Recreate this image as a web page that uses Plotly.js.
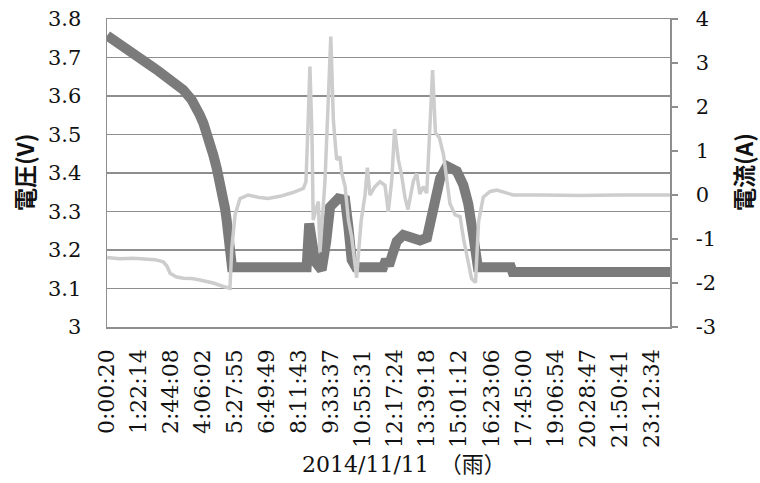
<!DOCTYPE html>
<html>
<head>
<meta charset="utf-8">
<script src="https://cdn.plot.ly/plotly-3.0.1.min.js"></script>
<style>
  html, body { margin: 0; padding: 0; background: #ffffff; }
  #chart { width: 760px; height: 483px; }
</style>
</head>
<body>
<div id="chart"></div>
<script>
// Battery log for 2014/11/11 (rainy day): time in hours since midnight.

// Battery voltage (V)
const voltTime = [0.0056, 0.41, 0.77, 1.12, 1.48, 1.83, 2.19, 2.55, 2.90, 3.25, 3.61, 3.82, 3.96, 4.11,
  4.25, 4.39, 4.53, 4.68, 4.82, 4.93, 5.03, 5.10, 5.17, 5.24, 5.29, 5.33,
  8.51, 8.62, 8.87, 9.15, 9.34, 9.51, 9.86, 10.15, 10.29, 10.43, 10.61,
  11.77, 11.89, 12.02, 12.14, 12.35, 12.63, 13.06, 13.34, 13.64, 13.91, 14.20, 14.49, 14.91,
  15.19, 15.40, 15.62, 15.76, 15.81, 17.22, 17.29, 24.0];
const voltage = [3.757, 3.741, 3.728, 3.715, 3.698, 3.68, 3.665, 3.65, 3.633, 3.616, 3.59, 3.572, 3.55, 3.529,
  3.507, 3.477, 3.447, 3.412, 3.377, 3.343, 3.308, 3.278, 3.248, 3.204, 3.178, 3.155,
  3.155, 3.269, 3.17, 3.148, 3.22, 3.312, 3.334, 3.33, 3.26, 3.174, 3.155,
  3.155, 3.175, 3.16, 3.183, 3.222, 3.239, 3.232, 3.225, 3.232, 3.308, 3.386, 3.418, 3.405,
  3.369, 3.32, 3.235, 3.165, 3.155, 3.155, 3.143, 3.143];

// Battery current (A)
const currTime = [0.0056, 0.55, 1.12, 1.62, 2.05, 2.40, 2.56, 2.69, 2.94, 3.25, 3.62, 3.96, 4.26, 4.53, 4.96, 5.24,
  5.32, 5.46, 5.67, 6.02, 6.44, 6.86, 7.37, 7.89, 8.37, 8.48, 8.57, 8.65, 8.74, 8.79, 8.94, 9.01, 9.08,
  9.29, 9.42, 9.54, 9.65, 9.79, 9.93, 10.01, 10.15, 10.29, 10.43, 10.64, 10.83, 11.00, 11.10, 11.21,
  11.42, 11.64, 11.85, 11.99, 12.14, 12.26, 12.42, 12.56, 12.70, 12.83, 13.06, 13.20, 13.34, 13.48,
  13.63, 13.77, 13.88, 14.00, 14.17, 14.35, 14.48, 14.62, 14.84, 15.05, 15.20, 15.35, 15.54, 15.71,
  15.84, 16.04, 16.33, 16.61, 16.97, 17.32, 18.46, 20.16, 21.87, 24.0];
const current = [-1.42, -1.45, -1.44, -1.46, -1.47, -1.52, -1.62, -1.78, -1.86, -1.89, -1.90, -1.93, -1.96, -2.0, -2.08, -2.12,
  -1.21, -0.45, -0.08, 0.0, -0.05, -0.08, -0.03, 0.05, 0.15, 0.3, 1.6, 2.92, 1.3, -0.57, -0.27, -0.15, -1.3,
  0.3, 2.0, 3.6, 1.70, 0.8, 0.87, 0.49, 0.19, -0.57, -0.95, -1.88, -0.6, 0.0, 0.62, 0.0,
  0.19, 0.30, 0.22, -0.38, 0.34, 1.50, 0.8, 0.45, -0.05, -0.33, 0.32, 0.49, 0.02, 0.19,
  0.04, 1.48, 2.84, 1.42, 1.30, 0.9, 0.42, -0.2, -0.45, -0.49, -1.0, -1.44, -1.9, -1.99,
  -0.6, -0.05, 0.08, 0.11, 0.06, 0.0, 0.0, -0.01, 0.0, 0.0];

// Axis tick labels
const timeLabels = ['0:00:20', '1:22:14', '2:44:08', '4:06:02', '5:27:55', '6:49:49', '8:11:43', '9:33:37',
  '10:55:31', '12:17:24', '13:39:18', '15:01:12', '16:23:06', '17:45:00', '19:06:54', '20:28:47',
  '21:50:41', '23:12:34'];
const voltTicks = [3, 3.1, 3.2, 3.3, 3.4, 3.5, 3.6, 3.7, 3.8];
const voltTickText = ['3', '3.1', '3.2', '3.3', '3.4', '3.5', '3.6', '3.7', '3.8'];
const currTicks = [-3, -2, -1, 0, 1, 2, 3, 4];
const currTickText = ['-3', '-2', '-1', '0', '1', '2', '3', '4'];

// Tick positions follow the clock strings themselves
const timeTickVals = timeLabels.map(function (s) {
  const p = s.split(':').map(Number);
  return p[0] + p[1] / 60 + p[2] / 3600;
});

const gridGray = '#8e8e8e';
const serif = 'DejaVu Serif, Noto Sans CJK JP, serif';
const gothic = 'Noto Sans CJK JP, sans-serif';

const traces = [
  {
    x: voltTime, y: voltage, type: 'scatter', mode: 'lines', yaxis: 'y',
    line: { color: '#7b7b7b', width: 10 }, hoverinfo: 'skip'
  },
  {
    x: currTime, y: current, type: 'scatter', mode: 'lines', yaxis: 'y2',
    line: { color: '#cdcdcd', width: 3.5 }, hoverinfo: 'skip'
  }
];

const layout = {
  width: 760, height: 483,
  margin: { l: 107, r: 90, t: 19, b: 156 },
  paper_bgcolor: '#ffffff', plot_bgcolor: '#ffffff',
  showlegend: false,
  xaxis: {
    range: [0, 24], tickmode: 'array', tickvals: timeTickVals, ticktext: timeLabels,
    tickangle: -90, tickfont: { family: serif, size: 22, color: '#111111' },
    ticks: '', ticklabelstandoff: 12,
    showgrid: false, zeroline: false,
    showline: true, mirror: true, linecolor: gridGray, linewidth: 1.5
  },
  yaxis: {
    range: [3, 3.8], tickmode: 'array', tickvals: voltTicks, ticktext: voltTickText,
    tickfont: { family: serif, size: 21, color: '#111111' },
    ticks: '', ticklabelstandoff: 20,
    showgrid: true, gridcolor: gridGray, gridwidth: 1.5, zeroline: false,
    showline: true, linecolor: gridGray, linewidth: 1.5
  },
  yaxis2: {
    overlaying: 'y', side: 'right', range: [-3, 4],
    tickmode: 'array', tickvals: currTicks, ticktext: currTickText,
    tickfont: { family: serif, size: 21, color: '#111111' },
    ticks: 'outside', ticklen: 6, tickwidth: 1.5, tickcolor: gridGray, ticklabelstandoff: 14,
    showgrid: false, zeroline: false,
    showline: true, linecolor: gridGray, linewidth: 1.5
  },
  annotations: [
    {
      text: '電圧(V)', xref: 'paper', yref: 'paper', x: -0.1474, y: 0.503,
      xanchor: 'center', yanchor: 'middle', textangle: -90, showarrow: false,
      font: { family: gothic, size: 23, color: '#111111', weight: 'bold' }
    },
    {
      text: '電流(A)', xref: 'paper', yref: 'paper', x: 1.1297, y: 0.503,
      xanchor: 'center', yanchor: 'middle', textangle: -90, showarrow: false,
      font: { family: gothic, size: 23, color: '#111111', weight: 'bold' }
    },
    {
      text: '2014/11/11\u3000（雨）', xref: 'paper', yref: 'paper', x: 0.528, y: -0.445,
      xanchor: 'center', yanchor: 'middle', showarrow: false,
      font: { family: serif, size: 22, color: '#111111' }
    }
  ]
};

Plotly.newPlot('chart', traces, layout, { staticPlot: true, displayModeBar: false });
</script>
</body>
</html>
